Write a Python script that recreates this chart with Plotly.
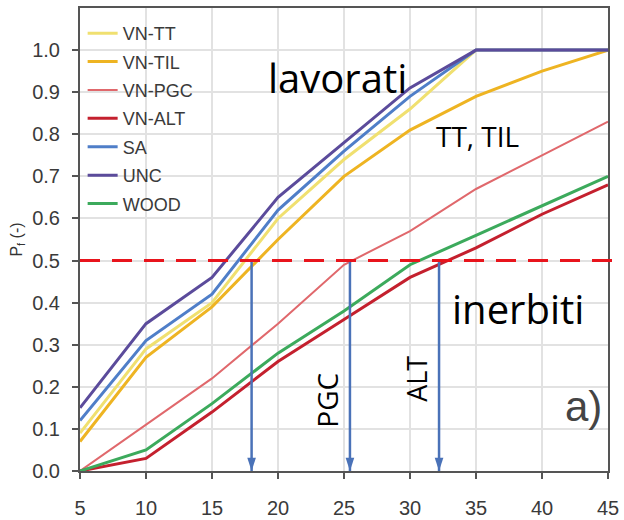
import plotly.graph_objects as go

x_vals = [5, 10, 15, 20, 25, 30, 35, 40, 45]
series_names = ["VN-TT", "VN-TIL", "VN-PGC", "VN-ALT", "SA", "UNC", "WOOD"]
vn_tt = [0.09, 0.29, 0.40, 0.60, 0.74, 0.86, 1.00, 1.00, 1.00]
vn_til = [0.07, 0.27, 0.39, 0.55, 0.70, 0.81, 0.89, 0.95, 1.00]
vn_pgc = [0.00, 0.11, 0.22, 0.35, 0.49, 0.57, 0.67, 0.75, 0.83]
vn_alt = [0.00, 0.03, 0.14, 0.26, 0.36, 0.46, 0.53, 0.61, 0.68]
sa = [0.12, 0.31, 0.42, 0.62, 0.76, 0.89, 1.00, 1.00, 1.00]
unc = [0.15, 0.35, 0.46, 0.65, 0.78, 0.91, 1.00, 1.00, 1.00]
wood = [0.00, 0.05, 0.16, 0.28, 0.38, 0.49, 0.56, 0.63, 0.70]
series_values = [vn_tt, vn_til, vn_pgc, vn_alt, sa, unc, wood]

threshold = 0.5
arrow_x = [18.0, 25.45, 32.2]
x_ticks = [5, 10, 15, 20, 25, 30, 35, 40, 45]
y_ticks = [0.0, 0.1, 0.2, 0.3, 0.4, 0.5, 0.6, 0.7, 0.8, 0.9, 1.0]

colors = ["#f0e070", "#eeb422", "#e0686c", "#c4202e", "#4f7ec8", "#5b4b9b", "#3caa5c"]
widths = [3, 3, 2, 3, 3, 3, 3]

fig = go.Figure()
for name, vals, c, w in zip(series_names, series_values, colors, widths):
    fig.add_trace(go.Scatter(x=x_vals, y=vals, mode="lines", name=name,
                             line=dict(color=c, width=w), legendgroup=name))

# vertical arrows from the threshold down to the axis
for ax_ in arrow_x:
    fig.add_trace(go.Scatter(
        x=[ax_, ax_], y=[threshold, 0], mode="lines+markers", showlegend=False,
        hoverinfo="skip", cliponaxis=False,
        line=dict(color="#4a72b8", width=2.5),
        marker=dict(symbol="arrow", angle=180, size=[0, 14], opacity=[0, 1],
                    color="#4a72b8", line=dict(width=0)),
    ))

# threshold dashed line
fig.add_shape(type="line", xref="paper", yref="y", x0=0, x1=1.0095,
              y0=threshold, y1=threshold,
              line=dict(color="#e8141c", width=3, dash="20px,12px"))

txt_font = "Open Sans"
annotations = [
    dict(x=24.47, y=0.935, xref="x", yref="y", text="lavorati", showarrow=False,
         font=dict(family=txt_font, size=40, color="#000000")),
    dict(x=35.15, y=0.797, xref="x", yref="y", text="TT, TIL", showarrow=False,
         font=dict(family=txt_font, size=28, color="#000000")),
    dict(x=38.15, y=0.385, xref="x", yref="y", text="inerbiti", showarrow=False,
         font=dict(family=txt_font, size=40, color="#000000")),
    dict(x=23.7, y=0.169, xref="x", yref="y", text="PGC", showarrow=False, textangle=-90,
         font=dict(family=txt_font, size=28, color="#000000")),
    dict(x=30.5, y=0.218, xref="x", yref="y", text="ALT", showarrow=False, textangle=-90,
         font=dict(family=txt_font, size=27, color="#000000")),
    dict(x=43.15, y=0.154, xref="x", yref="y", text="a)", showarrow=False,
         font=dict(family="Liberation Sans", size=42, color="#444444")),
]

axis_common = dict(showline=True, linecolor="#555555", linewidth=2, mirror=True,
                   ticks="outside", ticklen=6, tickwidth=2, tickcolor="#555555",
                   showgrid=True, gridcolor="#e2e2e2", gridwidth=1.5, zeroline=False,
                   automargin=False,
                   tickfont=dict(family="Liberation Sans", size=20, color="#3a3a3a"))

fig.update_layout(
    width=624, height=520,
    margin=dict(l=80, r=16, t=8, b=49),
    plot_bgcolor="white", paper_bgcolor="white",
    xaxis=dict(range=[5, 45], tickvals=x_ticks, ticktext=[str(v) for v in x_ticks],
               ticklabelstandoff=12, **axis_common),
    yaxis=dict(range=[0, 1.1], tickvals=y_ticks, ticktext=[f"{v:.1f}" for v in y_ticks],
               ticklabelstandoff=8,
               title=dict(text="P<sub>f</sub> (-)", standoff=6,
                          font=dict(family="Liberation Sans", size=16, color="#333333")),
               **axis_common),
    legend=dict(x=0.005, y=0.985, xanchor="left", yanchor="top", bgcolor="rgba(0,0,0,0)",
                font=dict(family="Liberation Sans", size=18, color="#3a3a3a"),
                tracegroupgap=2, itemwidth=30),
    annotations=annotations,
    showlegend=True,
)

fig.write_html("out.html")
